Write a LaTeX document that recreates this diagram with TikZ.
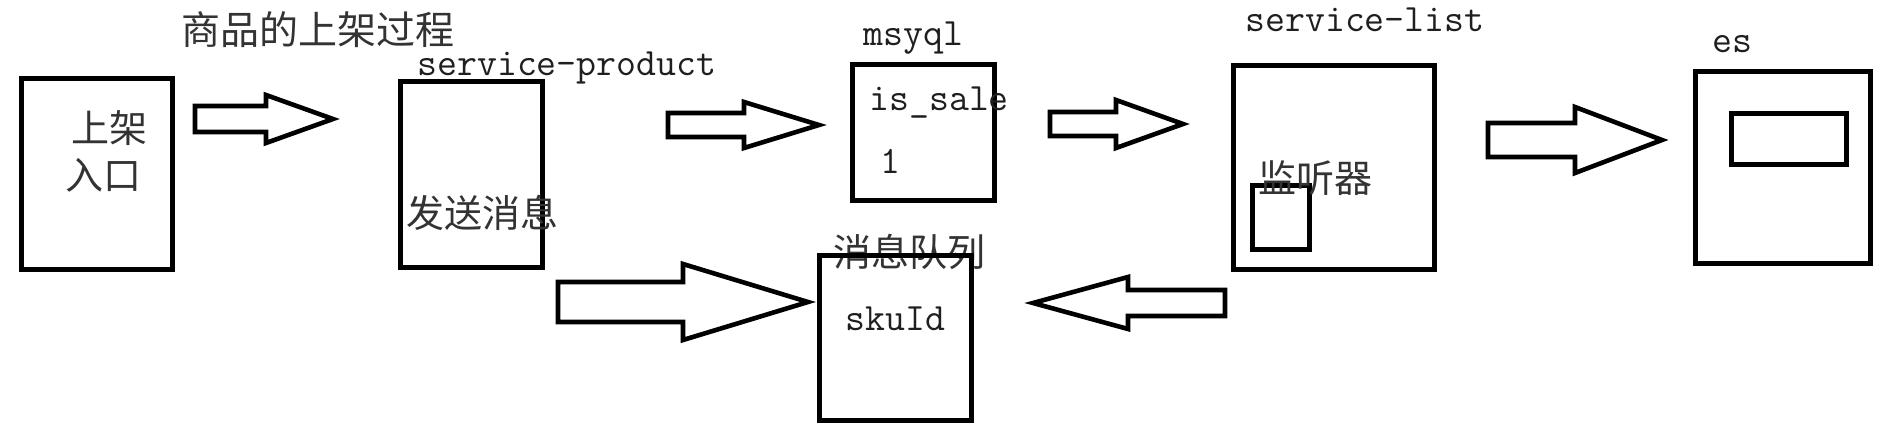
\documentclass[tikz,border=0pt]{standalone}
\usepackage{fontspec}
\newfontfamily\cjk{Noto Sans CJK SC}
\newcommand\blkarrow[6]{%
  \draw[barrow] (#1,{#4-#5}) -- (#2,{#4-#5}) -- (#2,{#4-#6}) -- (#3,#4)
    -- (#2,{#4+#6}) -- (#2,{#4+#5}) -- (#1,{#4+#5}) -- cycle;}
\begin{document}
\begin{tikzpicture}[x=0.5pt,y=-0.5pt,
  boxnode/.style={draw=black,line width=2.5pt,inner sep=0pt,rectangle},
  sz/.style 2 args={minimum width=#1*0.5pt,minimum height=#2*0.5pt},
  barrow/.style={draw=black,fill=white,line width=2.3pt,line join=miter},
  zh/.style={font=\cjk\fontsize{19}{20}\selectfont,text=black!80,inner sep=0pt,anchor=west},
  lt/.style={font=\ttfamily\fontsize{19.35}{20}\selectfont,text=black!88,inner sep=0pt,anchor=base west}]
\useasboundingbox[fill=white] (0,0) rectangle (1896,439);
% boxes
\node[boxnode,sz={151}{191}] (entry) at (97,174) {};
\node[boxnode,sz={142}{186}] (product) at (471.5,174.5) {};
\node[boxnode,sz={142}{136}] (mysql) at (923.5,132.5) {};
\node[boxnode,sz={201}{204}] (list) at (1334,167.5) {};
\node[boxnode,sz={57}{64}] (listener) at (1281,217.5) {};
\node[boxnode,sz={175}{192}] (es) at (1783,167.5) {};
\node[boxnode,sz={115}{51}] (esinner) at (1789,139) {};
\node[zh] (queuelabel) at (833,252) {消息队列};
\node[boxnode,sz={152}{165}] (queue) at (895.5,338) {};
% block arrows
\blkarrow{195}{266}{333}{119}{13}{24}
\blkarrow{668}{744}{819}{125}{12}{23}
\blkarrow{1050}{1116}{1183}{124}{12}{24}
\blkarrow{1488}{1575}{1662}{140}{17}{33}
\blkarrow{558}{683}{808}{302}{20}{38}
\blkarrow{1225}{1128}{1033}{303}{13}{26}
% texts
\node[zh,font=\cjk\fontsize{19.5}{20}\selectfont] (title) at (181,30) {商品的上架过程};
\node[zh] (t1) at (71,128) {上架};
\node[zh] (t2) at (65,175) {入口};
\node[lt] (sp) at (417,75) {service-product};
\node[zh] (send) at (406,213) {发送消息};
\node[lt] (msyql) at (863,45) {msyql};
\node[lt] (issale) at (869,110) {is\_sale};
\node[lt] (one) at (880,173) {1};
\node[lt] (sl) at (1245,32) {service-list};
\node[zh] (jt) at (1258,178) {监听器};
\node[lt] (estext) at (1712,53) {es};
\node[lt] (sku) at (845,330) {skuId};
\end{tikzpicture}
\end{document}
